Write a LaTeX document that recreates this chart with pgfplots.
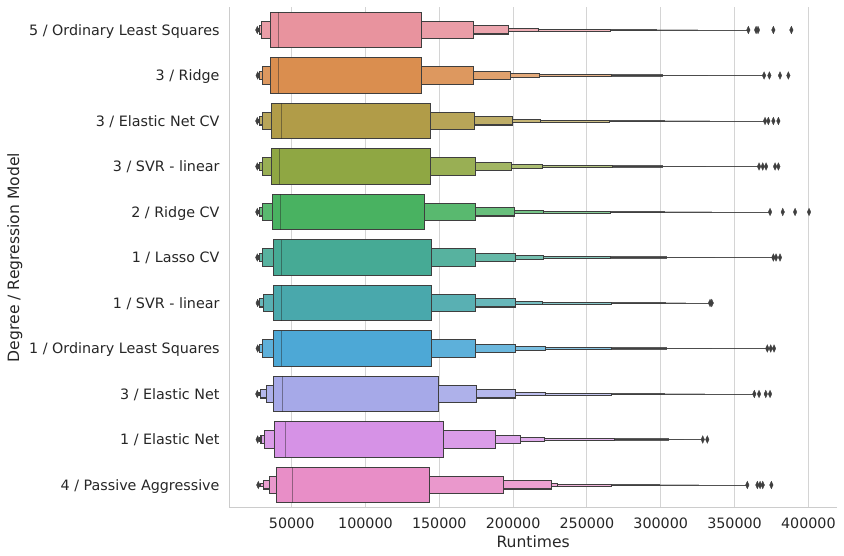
\documentclass[border=0pt]{standalone}
\usepackage{pgfplots}
\pgfplotsset{compat=1.18}
\usepackage{fontspec}
\setmainfont{DejaVu Sans}

\definecolor{c0}{HTML}{E8939E}
\definecolor{c1}{HTML}{DA8E4F}
\definecolor{c2}{HTML}{B19C48}
\definecolor{c3}{HTML}{8FA743}
\definecolor{c4}{HTML}{49B261}
\definecolor{c5}{HTML}{46AA95}
\definecolor{c6}{HTML}{49A8AC}
\definecolor{c7}{HTML}{4DA8D6}
\definecolor{c8}{HTML}{A6A9E8}
\definecolor{c9}{HTML}{D692E6}
\definecolor{c10}{HTML}{E88EC7}
\definecolor{edgec}{HTML}{3F3F3F}
\definecolor{medc}{HTML}{262626}
\definecolor{gridc}{HTML}{D4D4D4}
\definecolor{spinec}{HTML}{CCCCCC}
\definecolor{txt}{HTML}{262626}

\pgfplotsset{
  outl/.style={only marks, mark=diamond*, mark size=3.8pt,
    mark options={fill=edgec, draw=edgec, xscale=0.62, line width=0.3pt}},
}

% one letter-value box: y, left, right, half height, fill, edge width
\newcommand\lvbox[6]{%
  \pgfmathsetmacro\lvya{#1-#4}%
  \pgfmathsetmacro\lvyb{#1+#4}%
  \edef\lvtmp{\noexpand\addplot[draw=edgec, line width=#6, line join=miter, fill=#5] coordinates {(#2,\lvya) (#3,\lvya) (#3,\lvyb) (#2,\lvyb)} -- cycle;}%
  \lvtmp}
% tail lines: y, lowest, highest non-outlier, end of faded part
\newcommand\lvtail[4]{%
  \addplot[draw=edgec, opacity=0.9, line width=0.9pt] coordinates {(#2,#1) (#3,#1)};
  \addplot[draw=edgec, opacity=0.3, line width=1.8pt] coordinates {(#2,#1) (#4,#1)};}
% outer levels 6,5,4: y, colour, L6,R6,L5,R5,L4,R4
\newcommand\lvouter[8]{%
  \addplot[draw=edgec, opacity=0.85, line width=2.1pt] coordinates {(#3,#1) (#4,#1)};
  \lvbox{#1}{#5}{#6}{0.02}{#2!66!white}{0.75pt}%
  \lvbox{#1}{#7}{#8}{0.042}{#2!75!white}{1.05pt}}
% inner levels 3,2,1 and median: y, colour, L3,R3,L2,R2,L1,R1,median
\newcommand\lvinner[9]{%
  \lvbox{#1}{#3}{#4}{0.09}{#2!83!white}{1.2pt}%
  \lvbox{#1}{#5}{#6}{0.19}{#2!91!white}{1.25pt}%
  \lvbox{#1}{#7}{#8}{0.39}{#2}{1.25pt}%
  \pgfmathsetmacro\lvya{#1-0.39}%
  \pgfmathsetmacro\lvyb{#1+0.39}%
  \edef\lvtmp{\noexpand\addplot[draw=medc, opacity=0.45, line width=1.3pt] coordinates {(#9,\lvya) (#9,\lvyb)};}%
  \lvtmp}

\begin{document}
\begin{tikzpicture}
\useasboundingbox (0,0) rectangle (844pt,556pt);
\begin{axis}[
  at={(229.7pt,48.25pt)}, anchor=south west,
  width=607pt, height=500.5pt, scale only axis,
  xmin=8000, xmax=419200, ymin=-0.5, ymax=10.5,
  axis x line*=bottom, axis y line*=left,
  axis line style={draw=spinec, line width=1.25pt},
  major tick length=0pt,
  xtick={50000,100000,150000,200000,250000,300000,350000,400000},
  ytick={0,1,2,3,4,5,6,7,8,9,10},
  yticklabels={4 / Passive Aggressive, 1 / Elastic Net, 3 / Elastic Net,
    1 / Ordinary Least Squares, 1 / SVR - linear, 1 / Lasso CV, 2 / Ridge CV,
    3 / SVR - linear, 3 / Elastic Net CV, 3 / Ridge, 5 / Ordinary Least Squares},
  scaled x ticks=false,
  xticklabel style={/pgf/number format/fixed, /pgf/number format/precision=0,
    /pgf/number format/1000 sep={}, /pgf/number format/assume math mode=true},
  xmajorgrids, grid style={draw=gridc, line width=1pt},
  tick label style={font=\fontsize{14.3}{17}\selectfont, text=txt, inner sep=0pt},
  xticklabel style={anchor=base, yshift=-20.5pt},
  yticklabel style={anchor=base east, xshift=-10pt, yshift=-5.2pt},
  xlabel={Runtimes}, ylabel={Degree / Regression Model},
  label style={font=\fontsize{15.6}{18}\selectfont, text=txt, inner sep=0pt},
  xlabel style={at={(axis description cs:0.5,-0.0794)}, anchor=base},
  ylabel style={at={(axis description cs:-0.3468,0.5)}, anchor=base},
]
% 5 / Ordinary Least Squares
\lvtail{10}{26700}{359350}{325200}
\lvouter{10}{c0}{27100}{297300}{27300}{266100}{27500}{217100}
\lvinner{10}{c0}{28000}{197000}{29700}{173000}{35500}{138100}{40900}
\addplot[outl] coordinates {(26700,10) (359350,10) (364600,10) (365900,10) (376300,10) (388500,10)};
% 3 / Ridge
\lvtail{9}{26950}{370000}{332250}
\lvouter{9}{c1}{27200}{301350}{27400}{266800}{27700}{217750}
\lvinner{9}{c1}{28050}{198100}{30400}{173000}{35500}{138100}{40900}
\addplot[outl] coordinates {(26950,9) (370000,9) (373600,9) (380800,9) (386450,9)};
% 3 / Elastic Net CV
\lvtail{8}{26700}{370660}{333400}
\lvouter{8}{c2}{27100}{302900}{27400}{265200}{27800}{218400}
\lvinner{8}{c2}{28320}{199450}{30080}{173700}{36180}{143900}{42950}
\addplot[outl] coordinates {(26700,8) (370660,8) (372900,8) (376300,8) (379700,8)};
% 3 / SVR - linear
\lvtail{7}{26700}{366600}{330930}
\lvouter{7}{c3}{27100}{301750}{27300}{267500}{27700}{219800}
\lvinner{7}{c3}{28050}{198800}{30080}{174400}{36180}{143900}{41600}
\addplot[outl] coordinates {(26700,7) (366600,7) (369100,7) (371350,7) (377450,7) (379700,7)};
% 2 / Ridge CV
\lvtail{6}{26700}{374050}{334900}
\lvouter{6}{c4}{27100}{302900}{27400}{265650}{27800}{220450}
\lvinner{6}{c4}{28320}{200800}{30080}{174400}{36860}{139840}{42280}
\addplot[outl] coordinates {(26700,6) (374050,6) (382650,6) (391000,6) (400470,6)};
% 1 / Lasso CV
\lvtail{5}{26700}{376300}{336560}
\lvouter{5}{c5}{27100}{304050}{27400}{265650}{27800}{220450}
\lvinner{5}{c5}{28320}{201500}{30080}{174400}{37540}{144580}{42950}
\addplot[outl] coordinates {(26700,5) (376300,5) (378100,5) (380800,5)};
% 1 / SVR - linear
\lvtail{4}{26950}{333400}{317000}
\lvouter{4}{c6}{27200}{303600}{27400}{266800}{27800}{219800}
\lvinner{4}{c6}{28320}{201500}{30760}{174400}{37540}{144580}{42950}
\addplot[outl] coordinates {(26950,4) (333400,4) (334550,4)};
% 1 / Ordinary Least Squares
\lvtail{3}{26950}{372200}{334700}
\lvouter{3}{c7}{27200}{304050}{27400}{266800}{27700}{221800}
\lvinner{3}{c7}{28050}{201500}{30080}{174400}{37540}{144580}{42950}
\addplot[outl] coordinates {(26950,3) (372200,3) (374500,3) (376750,3)};
% 3 / Elastic Net
\lvtail{2}{26700}{363400}{330100}
\lvouter{2}{c8}{27100}{302900}{27400}{266800}{27850}{221800}
\lvinner{2}{c8}{28730}{201500}{32800}{175050}{37540}{149300}{43630}
\addplot[outl] coordinates {(26700,2) (363400,2) (366600,2) (371150,2) (374050,2)};
% 1 / Elastic Net
\lvtail{1}{26950}{328450}{315900}
\lvouter{1}{c9}{27200}{305600}{27500}{268550}{28050}{221150}
\lvinner{1}{c9}{29200}{204900}{31440}{187950}{38200}{152700}{45670}
\addplot[outl] coordinates {(26950,1) (328450,1) (331550,1)};
% 4 / Passive Aggressive
\lvtail{0}{27380}{358650}{326100}
\lvouter{0}{c10}{27600}{299500}{28000}{266800}{29000}{230100}
\lvinner{0}{c10}{30760}{226000}{34800}{193350}{39570}{143200}{50400}
\addplot[outl] coordinates {(27380,0) (358650,0) (365450,0) (367300,0) (369100,0) (374950,0)};
\end{axis}
\end{tikzpicture}
\end{document}
